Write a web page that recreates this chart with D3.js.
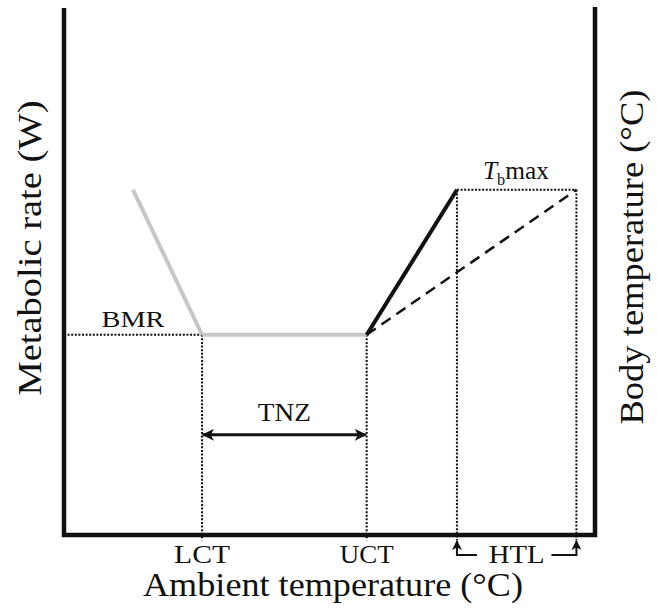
<!DOCTYPE html>
<html><head><meta charset="utf-8">
<script src="https://cdn.jsdelivr.net/npm/d3@7"></script>
<style>body{margin:0;background:#fff}svg{display:block}text{font-family:"Liberation Serif","Times New Roman",serif;fill:#111}</style>
</head><body><svg id="c" width="657" height="611"></svg>
<script>
// Data (arbitrary units: ambient temperature 0-100, rate/body temp 0-100)
const keyLabels = ["LCT", "UCT"];
const keyTemps = [26, 57];
const bmr = 38;
const tbMax = 65.5;
const tbTemp = 74;
const htlEnd = 96.5;
const coldLine = [[13, 65.5], [26, 38]];
const tnzLine = [[26, 38], [57, 38]];
const heatLine = [[57, 38], [74, 65.5]];
const bodyTempLine = [[57, 38], [96.5, 65.5]];

const svg = d3.select("#c");
const x = d3.scaleLinear().domain([0, 100]).range([64, 595]);
const y = d3.scaleLinear().domain([0, 100]).range([535, 8]);
const line = d3.line().x(d => x(d[0])).y(d => y(d[1]));

const defs = svg.append("defs");
defs.append("marker").attr("id", "ah").attr("viewBox", "0 0 10 10").attr("refX", 9).attr("refY", 5)
  .attr("markerWidth", 4.5).attr("markerHeight", 4).attr("orient", "auto-start-reverse")
  .attr("markerUnits", "strokeWidth")
  .append("path").attr("d", "M0,0 L10,5 L0,10 L2.5,5 Z").attr("fill", "#111");
defs.append("marker").attr("id", "ah2").attr("viewBox", "0 0 10 10").attr("refX", 9).attr("refY", 5)
  .attr("markerWidth", 5).attr("markerHeight", 5).attr("orient", "auto")
  .attr("markerUnits", "strokeWidth")
  .append("path").attr("d", "M0,0 L10,5 L0,10 L2.5,5 Z").attr("fill", "#111");

function dotted(pts) {
  svg.append("path").attr("d", line(pts)).attr("fill", "none")
    .attr("stroke", "#111").attr("stroke-width", 2).attr("stroke-dasharray", "2,1.6");
}
dotted([[0, bmr], [keyTemps[0], bmr]]);
keyTemps.forEach(t => dotted([[t, bmr], [t, -1]]));
dotted([[tbTemp, tbMax], [htlEnd, tbMax]]);
dotted([[tbTemp, tbMax], [tbTemp, -1]]);
dotted([[htlEnd, tbMax], [htlEnd, -1]]);

svg.append("path").attr("d", line(coldLine)).attr("fill", "none").attr("stroke", "#c6c6c6").attr("stroke-width", 4);
svg.append("path").attr("d", line(tnzLine)).attr("fill", "none").attr("stroke", "#c6c6c6").attr("stroke-width", 4);
svg.append("path").attr("d", line(heatLine)).attr("fill", "none").attr("stroke", "#111").attr("stroke-width", 4);
svg.append("path").attr("d", line(bodyTempLine)).attr("fill", "none").attr("stroke", "#111").attr("stroke-width", 2.5).attr("stroke-dasharray", "11,7");

svg.append("path").attr("fill", "none").attr("stroke", "#111").attr("stroke-width", 4.5)
  .attr("stroke-linejoin", "miter")
  .attr("d", `M${x(0)},${y(100)} L${x(0)},${y(0)} L${x(100)},${y(0)} L${x(100)},${y(100) - 1}`);

function label(tx, ty, str, size, len) {
  return svg.append("text").attr("x", tx).attr("y", ty).attr("text-anchor", "middle")
    .attr("font-size", size).attr("textLength", len).attr("lengthAdjust", "spacingAndGlyphs").text(str);
}

// TNZ arrow
svg.append("line").attr("x1", x(keyTemps[0]) + 1).attr("x2", x(keyTemps[1]) - 1)
  .attr("y1", y(19)).attr("y2", y(19)).attr("stroke", "#111").attr("stroke-width", 3)
  .attr("marker-start", "url(#ah)").attr("marker-end", "url(#ah)");
label((x(keyTemps[0]) + x(keyTemps[1])) / 2, y(19) - 14, "TNZ", 25, 53);

label(133, y(bmr) - 8, "BMR", 24, 63);

// Tb max label
const tb = svg.append("text").attr("x", x(tbTemp) + 26).attr("y", y(tbMax) - 11).attr("font-size", 25)
  .attr("textLength", 66).attr("lengthAdjust", "spacingAndGlyphs");
tb.append("tspan").attr("font-style", "italic").text("T");
tb.append("tspan").attr("font-size", 16).attr("dy", 6).text("b");
tb.append("tspan").attr("dy", -6).text("max");

const tickLens = [56, 54];
svg.selectAll("text.tick").data(keyLabels).join("text").attr("class", "tick")
  .attr("x", (d, i) => x(keyTemps[i])).attr("y", 563).attr("text-anchor", "middle")
  .attr("font-size", 26).attr("textLength", (d, i) => tickLens[i]).attr("lengthAdjust", "spacingAndGlyphs")
  .text(d => d);

// HTL
const hy = 555;
svg.append("path").attr("fill", "none").attr("stroke", "#111").attr("stroke-width", 2)
  .attr("d", `M${x(tbTemp) + 20},${hy} L${x(tbTemp)},${hy} L${x(tbTemp)},${hy - 14}`).attr("marker-end", "url(#ah2)");
svg.append("path").attr("fill", "none").attr("stroke", "#111").attr("stroke-width", 2)
  .attr("d", `M${x(htlEnd) - 25},${hy} L${x(htlEnd)},${hy} L${x(htlEnd)},${hy - 14}`).attr("marker-end", "url(#ah2)");
label((x(tbTemp) + x(htlEnd)) / 2, 563, "HTL", 26, 56);

// axis titles
label(333, 596, "Ambient temperature (°C)", 33, 380);
svg.append("text").attr("transform", "translate(41,248) rotate(-90)").attr("text-anchor", "middle")
  .attr("font-size", 33).attr("textLength", 295).attr("lengthAdjust", "spacingAndGlyphs").text("Metabolic rate (W)");
svg.append("text").attr("transform", "translate(643,257) rotate(-90)").attr("text-anchor", "middle")
  .attr("font-size", 33).attr("textLength", 335).attr("lengthAdjust", "spacingAndGlyphs").text("Body temperature (°C)");
</script></body></html>
